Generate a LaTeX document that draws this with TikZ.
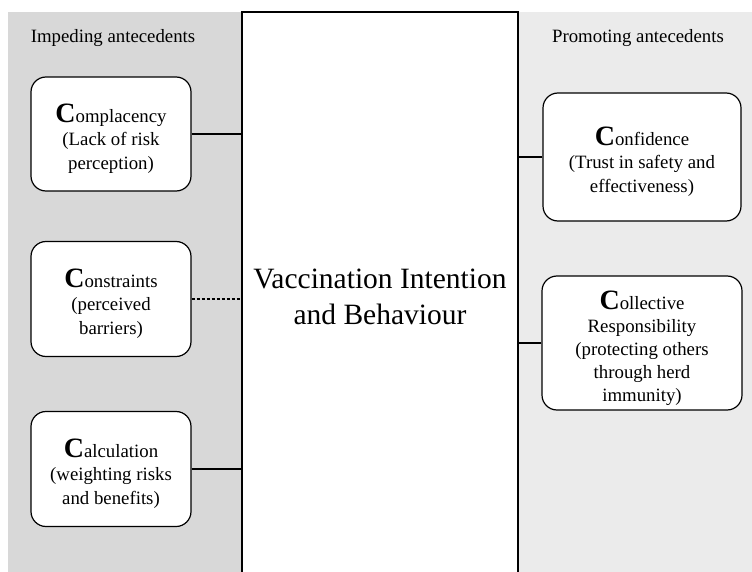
\documentclass[tikz,border=0pt]{standalone}
\usepackage{fontspec}
\setmainfont{Liberation Serif}
\definecolor{leftgray}{RGB}{216,216,216}
\definecolor{rightgray}{RGB}{235,235,235}
\begin{document}
\begin{tikzpicture}[x=1pt,y=-1pt,
  cbox/.style={draw=black, line width=1.2pt, fill=white, rounded corners=15pt, inner sep=0pt},
  ctext/.style={align=center, inner sep=0pt, yshift=-4.5pt, font=\fontsize{18.8}{23.5}\selectfont},
  conn/.style={line width=1.1pt},
  paneltitle/.style={font=\fontsize{18.8}{22}\selectfont, inner sep=0pt}]
\newcommand{\bigC}{{\fontsize{28}{23}\selectfont\bfseries C}}
\useasboundingbox (0,0) rectangle (752,572);
\fill[leftgray] (8,12) rectangle (242,600);
\fill[rightgray] (518,12) rectangle (760,600);
\node[draw=black, line width=1.6pt, fill=white, minimum width=276pt, minimum height=588pt, inner sep=0pt] (vb) at (380,306) {};
\node[font=\fontsize{29.5}{36}\selectfont, align=center, inner sep=0pt] (vbt) at (380,297) {Vaccination Intention\\and Behaviour};
\node[paneltitle] (imp) at (113,38) {Impeding antecedents};
\node[paneltitle] (pro) at (638,38) {Promoting antecedents};
\node[cbox, minimum width=160pt, minimum height=114pt,
  label={[ctext]center:\bigC omplacency\\(Lack of risk\\perception)}] (comp) at (111,134) {};
\node[cbox, minimum width=160pt, minimum height=115pt,
  label={[ctext]center:\bigC onstraints\\(perceived\\barriers)}] (cons) at (111,299) {};
\node[cbox, minimum width=160pt, minimum height=115pt,
  label={[ctext]center:\bigC alculation\\(weighting risks\\and benefits)}] (calc) at (111,469) {};
\node[cbox, minimum width=198pt, minimum height=128pt,
  label={[ctext]center:\bigC onfidence\\(Trust in safety and\\effectiveness)}] (conf) at (642,157) {};
\node[cbox, minimum width=200pt, minimum height=134pt,
  label={[ctext, yshift=-1pt, font=\fontsize{18.8}{23}\selectfont]center:\bigC ollective\\Responsibility\\(protecting others\\through herd\\immunity)}] (coll) at (642,343) {};
\draw[conn] (comp.east) -- (comp.east -| vb.west);
\draw[conn, dash pattern=on 3pt off 2pt] (cons.east) -- (cons.east -| vb.west);
\draw[conn] (calc.east) -- (calc.east -| vb.west);
\draw[conn] (conf.west) -- (conf.west -| vb.east);
\draw[conn] (coll.west) -- (coll.west -| vb.east);
\end{tikzpicture}
\end{document}
